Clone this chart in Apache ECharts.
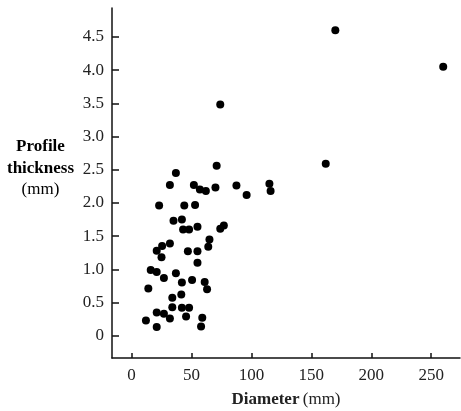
<!DOCTYPE html>
<html><head><meta charset="utf-8">
<script src="https://cdn.jsdelivr.net/npm/echarts@6/dist/echarts.min.js"></script>
<style>html,body{margin:0;padding:0;background:#fff}#c{width:461px;height:411px}</style>
</head><body><div id="c"></div>
<script>
const diameter = [71,37,32,52,57,62,70,87.5,96,115,116,23,44,53,35,42,43,48,55,74,77,65,64,32,25.5,21,25,47,55,55,16,21,27,37,42,50.5,61,63,14,34,41.5,34,42,48,21,27,32,45.5,59,12,21,58,170,260,74,162];
const thickness = [2.56,2.45,2.27,2.27,2.20,2.18,2.23,2.26,2.12,2.29,2.18,1.96,1.96,1.97,1.73,1.75,1.60,1.60,1.64,1.61,1.66,1.45,1.34,1.39,1.35,1.28,1.18,1.27,1.27,1.10,0.99,0.96,0.87,0.94,0.80,0.84,0.81,0.70,0.71,0.57,0.62,0.43,0.42,0.42,0.35,0.33,0.26,0.29,0.27,0.23,0.13,0.14,4.60,4.05,3.48,2.59];
const xTicks = [0,50,100,150,200,250];
const yTicks = [0,0.5,1.0,1.5,2.0,2.5,3.0,3.5,4.0,4.5];
const xName = ['Diameter','(mm)'];
const yName = ['Profile','thickness','(mm)'];

const font = '"Liberation Serif","DejaVu Serif",serif';
const chart = echarts.init(document.getElementById('c'));
chart.setOption({
  animation:false,
  backgroundColor:'#fff',
  grid:{left:112,top:8,right:1,bottom:53,outerBoundsMode:'none',containLabel:false},
  xAxis:{type:'value',min:-16.3,max:274,
    axisLine:{onZero:false,lineStyle:{color:'#111',width:1.5}},
    axisTick:{inside:true,length:5,customValues:xTicks,lineStyle:{color:'#111',width:1.5}},
    axisLabel:{customValues:xTicks,margin:9,color:'#222',fontFamily:font,fontSize:17},
    splitLine:{show:false},
    name:'{b|'+xName[0]+'} {n|'+xName[1]+'}',nameLocation:'middle',nameGap:33,
    nameTextStyle:{rich:{b:{fontFamily:font,fontSize:17,fontWeight:'bold',color:'#222'},n:{fontFamily:font,fontSize:17,color:'#222'}}}
  },
  yAxis:{type:'value',min:-0.336,max:4.935,
    axisLine:{onZero:false,lineStyle:{color:'#111',width:1.5}},
    axisTick:{inside:true,length:7,customValues:yTicks,lineStyle:{color:'#111',width:1.5}},
    axisLabel:{customValues:yTicks,margin:8,color:'#222',fontFamily:font,fontSize:17,formatter:v=>v.toFixed(1).replace('0.0','0')},
    splitLine:{show:false}
  },
  graphic:[{type:'text',x:40.5,y:168.5,style:{
    text:'{b|'+yName[0]+'}\n{b|'+yName[1]+'}\n{n|'+yName[2]+'}',align:'center',verticalAlign:'middle',
    rich:{b:{fontFamily:font,fontSize:17,fontWeight:'bold',color:'#222',lineHeight:21.5,align:'center'},n:{fontFamily:font,fontSize:17,color:'#222',lineHeight:21.5,align:'center'}}}}],
  series:[{type:'scatter',symbolSize:8,itemStyle:{color:'#000',opacity:1},
    data:diameter.map((d,i)=>[d,thickness[i]])}]
});
</script></body></html>
